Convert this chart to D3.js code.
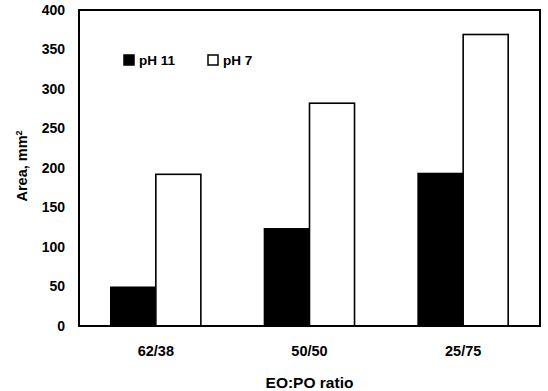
<!DOCTYPE html>
<html>
<head>
<meta charset="utf-8">
<script src="https://cdn.jsdelivr.net/npm/d3@7"></script>
<style>
  body { margin: 0; background: #fff; }
  text { font-family: "Liberation Sans", Arial, sans-serif; font-weight: bold; fill: #000; }
</style>
</head>
<body>
<svg id="chart" width="548" height="391"></svg>
<script>
var categories = ['62/38', '50/50', '25/75'];
var seriesNames = ['pH 11', 'pH 7'];
var ph11 = [49, 123, 193];
var ph7 = [192, 282, 369];
var yTicks = [0, 50, 100, 150, 200, 250, 300, 350, 400];

var margin = { top: 10, right: 8, bottom: 65, left: 79 },
  width = 548 - margin.left - margin.right,
  height = 391 - margin.top - margin.bottom;

var svg = d3.select('#chart');
var g = svg.append('g')
  .attr('transform', `translate(${margin.left},${margin.top})`);

var x = d3.scaleBand()
  .domain(categories)
  .range([0, width])
  .paddingInner(0.414)
  .paddingOuter(0.207);

var xInner = d3.scaleBand()
  .domain(seriesNames)
  .range([0, x.bandwidth()]);

var y = d3.scaleLinear()
  .domain([0, 400])
  .range([height, 0]);

var fills = { 'pH 11': '#000', 'pH 7': '#fff' };

var rows = categories.map(function (c, i) {
  return { cat: c, values: [
    { key: 'pH 11', value: ph11[i] },
    { key: 'pH 7', value: ph7[i] }
  ] };
});

// Bars -------------------- //
var groups = g.selectAll('g.group')
  .data(rows)
  .enter()
  .append('g')
  .attr('class', 'group')
  .attr('transform', (d) => `translate(${x(d.cat)},0)`);

groups.selectAll('rect')
  .data((d) => d.values)
  .enter()
  .append('rect')
  .attr('x', (d) => xInner(d.key))
  .attr('y', (d) => y(d.value))
  .attr('width', xInner.bandwidth())
  .attr('height', (d) => height - y(d.value))
  .style('fill', (d) => fills[d.key])
  .style('stroke', '#000')
  .style('stroke-width', 1.6);

// Frame ------------------- //
g.append('rect')
  .attr('width', width)
  .attr('height', height)
  .style('fill', 'none')
  .style('stroke', '#000')
  .style('stroke-width', 2);

// Axes -------------------- //
var yAxis = g.append('g')
  .call(d3.axisLeft(y).tickValues(yTicks).tickSize(0).tickPadding(14));
yAxis.select('.domain').remove();
yAxis.selectAll('text')
  .style('font-size', '14px')
  .style('font-family', '"Liberation Sans", Arial, sans-serif');

var xAxis = g.append('g')
  .attr('transform', `translate(0,${height})`)
  .call(d3.axisBottom(x).tickSize(0).tickPadding(20));
xAxis.select('.domain').remove();
xAxis.selectAll('text')
  .style('font-size', '14.5px')
  .style('font-family', '"Liberation Sans", Arial, sans-serif');

// Titles ------------------ //
svg.append('text')
  .attr('x', margin.left + width / 2)
  .attr('y', 388)
  .attr('text-anchor', 'middle')
  .style('font-size', '15.5px')
  .text('EO:PO ratio');

var yTitle = svg.append('text')
  .attr('transform', 'translate(27,166) rotate(-90)')
  .attr('text-anchor', 'middle')
  .style('font-size', '14.5px');
yTitle.append('tspan').text('Area, mm');
yTitle.append('tspan')
  .attr('dy', '-0.6em')
  .style('font-size', '9px')
  .text('2');

// Legend ------------------ //
var legendX = [124, 208];
var legend = svg.selectAll('g.legend')
  .data(seriesNames)
  .enter()
  .append('g')
  .attr('class', 'legend')
  .attr('transform', (d, i) => `translate(${legendX[i]},55)`);

legend.append('rect')
  .attr('width', 10)
  .attr('height', 10)
  .style('fill', (d) => fills[d])
  .style('stroke', '#000')
  .style('stroke-width', 1.5);

legend.append('text')
  .attr('x', 15)
  .attr('y', 10)
  .style('font-size', '13.5px')
  .text((d) => d);
</script>
</body>
</html>
